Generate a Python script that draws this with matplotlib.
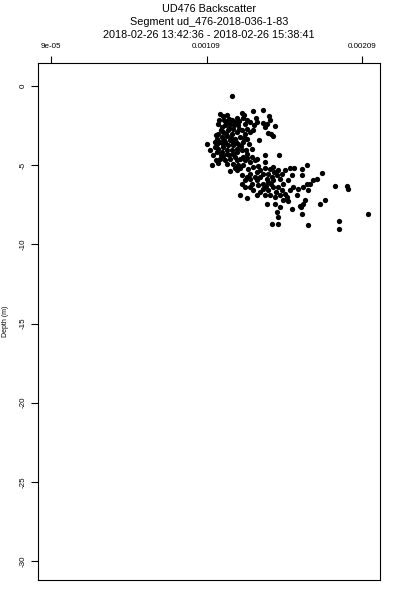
import numpy as np
import matplotlib
matplotlib.use("Agg")
import matplotlib.pyplot as plt

plt.rcParams['font.family'] = ['Liberation Sans', 'DejaVu Sans']

title_lines = ["UD476 Backscatter",
               "Segment ud_476-2018-036-1-83",
               "2018-02-26 13:42:36 - 2018-02-26 15:38:41"]

# backscatter (x 1e-3) and depth (m)
bs_milli = [
    1.256, 1.177, 1.194, 1.224, 1.237, 1.203, 1.316, 1.333, 1.323, 1.387,
    1.451, 1.353, 1.370, 1.408, 1.417, 1.396, 1.494, 1.498, 1.481, 1.528,
    1.456, 1.466, 1.488, 1.520, 1.503, 1.430, 1.166, 1.188, 1.209, 1.241,
    1.273, 1.295, 1.263, 1.230, 1.198, 1.166, 1.155, 1.188, 1.220, 1.252,
    1.284, 1.316, 1.348, 1.370, 1.391, 1.338, 1.306, 1.273, 1.241, 1.209,
    1.177, 1.145, 1.091, 1.113, 1.145, 1.166, 1.198, 1.230, 1.263, 1.295,
    1.327, 1.348,
    1.155, 1.188, 1.220, 1.252, 1.284, 1.316, 1.348, 1.381, 1.402, 1.370,
    1.338, 1.306, 1.273, 1.241, 1.209, 1.177, 1.220, 1.263, 1.295, 1.327,
    1.134, 1.123, 1.241, 1.288, 1.306, 1.466, 1.558, 1.466, 1.417, 1.359,
    1.391, 1.423, 1.370, 1.348, 1.316, 1.338, 1.370, 1.402, 1.434, 1.466,
    1.498, 1.520, 1.552, 1.541, 1.509, 1.477, 1.434, 1.413, 1.456, 1.488,
    1.520, 1.563, 1.595, 1.627, 1.655, 1.702, 1.734, 1.702, 1.638, 1.616,
    1.584, 1.552, 1.520, 1.488, 1.456, 1.423, 1.391, 1.370, 1.316, 1.338,
    1.306, 1.348, 1.434, 1.466, 1.498, 1.531, 1.563, 1.595, 1.627, 1.648,
    1.681, 1.713, 1.745, 1.734, 1.777, 1.799, 1.831, 1.756, 1.606, 1.584,
    1.616, 1.670,
    1.477, 1.531, 1.563, 1.541, 1.548, 1.509, 1.552, 1.638, 1.691, 1.713,
    1.724, 1.702, 1.745, 1.820, 1.852, 1.916, 1.996, 2.002, 2.131, 1.944,
    1.944, 1.696,
    1.181, 1.215, 1.245, 1.280, 1.310, 1.344, 1.155, 1.194, 1.224, 1.258,
    1.288, 1.323, 1.353, 1.237, 1.267, 1.301, 1.331, 1.361, 1.381, 1.181,
    1.151,
    1.173, 1.215, 1.252, 1.288, 1.301, 1.338, 1.151, 1.203, 1.258, 1.288,
    1.237, 1.198, 1.166, 1.273, 1.413, 1.451, 1.488, 1.524, 1.573, 1.473,
    1.503, 1.537, 1.573, 1.413, 1.381,
]
depth = [
    -0.612, -1.793, -1.899, -1.835, -2.046, -2.110, -1.688, -1.814, -1.983, -1.582,
    -1.519, -2.110, -2.257, -1.983, -2.257, -2.468, -1.899, -2.152, -2.405, -2.532,
    -2.321, -2.574, -2.954, -3.164, -3.038, -3.418, -2.363, -2.574, -2.468, -2.363,
    -2.257, -2.468, -2.679, -2.785, -2.890, -2.996, -3.312, -3.207, -3.164, -2.996,
    -2.890, -2.785, -2.679, -2.890, -2.785, -2.996, -3.207, -3.312, -3.418, -3.523,
    -3.523, -3.523, -3.671, -4.051, -3.840, -3.945, -3.840, -3.734, -3.734, -3.629,
    -3.523, -3.312,
    -4.156, -4.156, -4.262, -4.051, -4.156, -4.051, -4.262, -4.473, -4.684, -4.789,
    -4.684, -4.578, -4.473, -4.578, -4.684, -4.578, -4.895, -4.895, -5.000, -5.000,
    -4.367, -5.000, -5.359, -5.274, -5.148, -4.367, -4.367, -4.789, -4.620, -5.211,
    -5.106, -5.063, -5.527, -5.738, -5.633, -5.949, -5.844, -5.738, -5.316, -5.148,
    -5.211, -5.106, -5.316, -5.633, -5.738, -5.844, -5.738, -5.949, -6.160, -6.055,
    -5.949, -5.844, -5.274, -5.148, -5.148, -5.211, -5.000, -5.633, -5.633, -5.949,
    -6.160, -6.371, -6.371, -6.582, -6.477, -6.266, -6.582, -6.371, -6.160, -6.371,
    -6.899, -7.046, -6.688, -6.899, -6.899, -7.004, -6.899, -6.793, -6.582, -6.371,
    -6.477, -6.371, -6.582, -6.160, -5.949, -5.844, -5.485, -6.160, -7.004, -7.173,
    -7.257, -6.899,
    -7.468, -7.426, -7.637, -7.954, -8.270, -8.734, -8.734, -7.743, -7.595, -7.468,
    -7.215, -8.059, -8.797, -7.426, -7.215, -6.329, -6.329, -6.477, -8.101, -8.523,
    -9.008, -7.637,
    -2.743, -2.996, -3.249, -3.523, -3.798, -4.009, -3.671, -3.671, -4.009, -4.304,
    -4.684, -4.473, -4.515, -2.616, -2.468, -2.679, -3.249, -3.629, -3.945, -4.367,
    -4.684,
    -2.152, -2.257, -2.110, -1.983, -2.194, -2.363, -3.101, -3.376, -3.587, -3.945,
    -4.367, -4.430, -4.852, -5.148, -5.422, -5.570, -5.527, -5.422, -5.570, -6.329,
    -6.203, -6.688, -6.582, -6.899, -6.203,
]

x_ticks = [9e-05, 0.00109, 0.00209]
x_tick_labels = ["9e-05", "0.00109", "0.00209"]
y_ticks = [0, -5, -10, -15, -20, -25, -30]
y_tick_labels = ["0", "-5", "-10", "-15", "-20", "-25", "-30"]

x = np.array(bs_milli) * 1e-3
y = np.array(depth)

fig = plt.figure(figsize=(4, 6), dpi=100)
ax = fig.add_axes([0.095, 0.0333, 0.855, 0.8617])

ax.plot(x, y, 'o', color='black', markersize=3.8, markeredgewidth=0)

ax.set_xlim(6e-06, 0.002206)
ax.set_ylim(-31.2, 1.46)

ax.xaxis.tick_top()
ax.set_xticks(x_ticks)
ax.set_xticklabels(x_tick_labels)
ax.set_yticks(y_ticks)
ax.set_yticklabels(y_tick_labels, rotation=90, va='center')
ax.tick_params(axis='both', length=5, width=0.8, labelsize=5.8, color='black')
ax.tick_params(axis='x', pad=4)
ax.tick_params(axis='y', pad=3)
for s in ax.spines.values():
    s.set_linewidth(0.8)

ax.set_ylabel("Depth (m)", fontsize=5, labelpad=8)

cx = 0.095 + 0.855 / 2
for i, line in enumerate(title_lines):
    fig.text(cx, 0.985 - i * 0.0217, line, ha='center', va='center', fontsize=7.8)

fig.savefig("out.png", dpi=100)
